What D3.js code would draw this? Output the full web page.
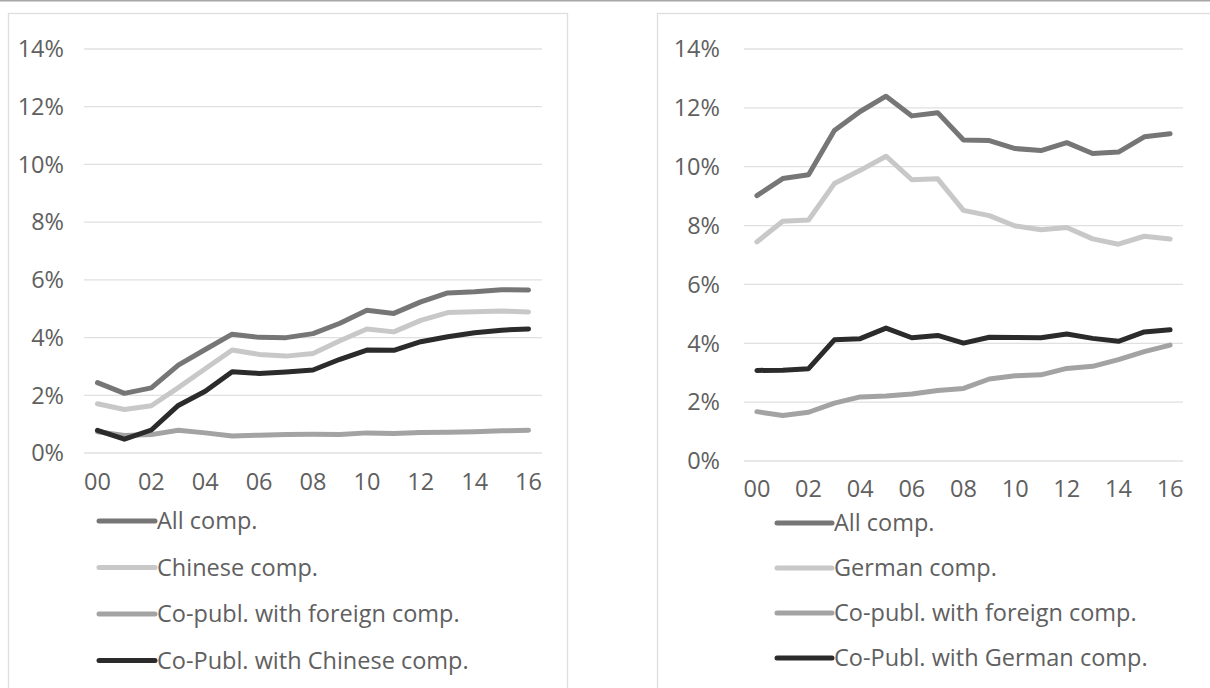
<!DOCTYPE html>
<html>
<head>
<meta charset="utf-8">
<script src="https://cdn.jsdelivr.net/npm/d3@7"></script>
<style>
  html, body { margin: 0; padding: 0; background: #ffffff; }
  svg { display: block; }
  text { font-family: "Open Sans", "Noto Sans", sans-serif; fill: #606060; }
</style>
</head>
<body>
<svg id="chart" width="1210" height="688"></svg>
<script>
// ---- data ----
const years = ["00","01","02","03","04","05","06","07","08","09","10","11","12","13","14","15","16"];
const tickLabels = ["00","02","04","06","08","10","12","14","16"];
const yTicks = [0, 2, 4, 6, 8, 10, 12, 14];

const leftNames = ["All comp.", "Chinese comp.", "Co-publ. with foreign comp.", "Co-Publ. with Chinese comp."];
const leftAll      = [2.42, 2.05, 2.24, 3.03, 3.57, 4.10, 3.99, 3.98, 4.12, 4.48, 4.93, 4.82, 5.22, 5.53, 5.57, 5.64, 5.63];
const leftNational = [1.69, 1.49, 1.62, 2.25, 2.90, 3.55, 3.40, 3.34, 3.43, 3.87, 4.28, 4.18, 4.58, 4.85, 4.88, 4.90, 4.87];
const leftForeign  = [0.72, 0.59, 0.62, 0.77, 0.68, 0.57, 0.60, 0.62, 0.63, 0.62, 0.68, 0.66, 0.69, 0.70, 0.72, 0.75, 0.77];
const leftCoNat    = [0.77, 0.46, 0.78, 1.63, 2.12, 2.80, 2.74, 2.79, 2.86, 3.23, 3.55, 3.54, 3.84, 4.01, 4.15, 4.24, 4.28];

const rightNames = ["All comp.", "German comp.", "Co-publ. with foreign comp.", "Co-Publ. with German comp."];
const rightAll      = [9.00, 9.58, 9.71, 11.21, 11.86, 12.38, 11.71, 11.82, 10.89, 10.87, 10.60, 10.53, 10.80, 10.43, 10.48, 11.00, 11.10];
const rightNational = [7.43, 8.13, 8.17, 9.41, 9.86, 10.34, 9.54, 9.57, 8.50, 8.32, 7.97, 7.84, 7.92, 7.53, 7.35, 7.62, 7.53];
const rightForeign  = [1.66, 1.53, 1.64, 1.95, 2.16, 2.19, 2.26, 2.38, 2.45, 2.77, 2.88, 2.91, 3.13, 3.20, 3.43, 3.70, 3.92];
const rightCoNat    = [3.06, 3.07, 3.12, 4.10, 4.14, 4.50, 4.17, 4.25, 3.99, 4.19, 4.18, 4.17, 4.30, 4.15, 4.05, 4.37, 4.44];

const seriesColors = ["#767676", "#c8c8c8", "#a3a3a3", "#2b2b2b"];
const drawOrder = [2, 1, 0, 3];

const panels = [
  { names: leftNames, series: [leftAll, leftNational, leftForeign, leftCoNat],
    box: [8.5, 13.5, 559, 700], xRange: [84, 542], yRange: [452.5, 48.5], yLabelX: 64, xLabelY: 482,
    legX: [99, 155], legTextX: 157, legY0: 521, legDy: 46.5 },
  { names: rightNames, series: [rightAll, rightNational, rightForeign, rightCoNat],
    box: [657.5, 13.5, 600, 700], xRange: [744, 1183], yRange: [460.5, 48.5], yLabelX: 720, xLabelY: 489,
    legX: [777, 832], legTextX: 834, legY0: 523, legDy: 45 }
];

const FONT = "23.5px";
const svg = d3.select("#chart");
svg.append("rect").attr("x", 0).attr("y", 0).attr("width", 1210).attr("height", 688).attr("fill", "#fff");
svg.append("line").attr("x1", 0).attr("x2", 1210).attr("y1", 0.75).attr("y2", 0.75)
  .attr("stroke", "#a6a6a6").attr("stroke-width", 1.5);

panels.forEach(p => {
  const g = svg.append("g");
  g.append("rect").attr("x", p.box[0]).attr("y", p.box[1]).attr("width", p.box[2]).attr("height", p.box[3])
    .attr("fill", "none").attr("stroke", "#dedede").attr("stroke-width", 1.3);

  const x = d3.scaleBand().domain(years).range(p.xRange).padding(0);
  const y = d3.scaleLinear().domain([0, 14]).range(p.yRange);

  const yAxis = d3.axisLeft(y).tickValues(yTicks).tickSize(-(p.xRange[1] - p.xRange[0]))
    .tickFormat(d => d + "%");
  const ya = g.append("g").attr("transform", `translate(${p.xRange[0]},0)`).call(yAxis);
  ya.select(".domain").remove();
  ya.selectAll(".tick line").attr("stroke", "#e0e0e0").attr("stroke-width", 1.3);
  ya.selectAll(".tick text").attr("x", p.yLabelX - p.xRange[0]).attr("dy", "0.35em")
    .attr("text-anchor", "end").style("font-size", FONT).style("fill", "#606060");

  const xAxis = d3.axisBottom(x).tickValues(tickLabels).tickSize(0);
  const xa = g.append("g").attr("transform", `translate(0,${p.xLabelY})`).call(xAxis);
  xa.select(".domain").remove();
  xa.selectAll(".tick text").attr("y", 0).attr("dy", "0.35em").style("font-size", FONT).style("fill", "#606060");

  const line = d3.line().x((d, i) => x(years[i]) + x.bandwidth() / 2).y(d => y(d));
  drawOrder.forEach(k => {
    g.append("path").datum(p.series[k]).attr("d", line)
      .attr("fill", "none").attr("stroke", seriesColors[k]).attr("stroke-width", 5)
      .attr("stroke-linejoin", "round").attr("stroke-linecap", "round");
  });

  p.names.forEach((n, i) => {
    const yy = p.legY0 + i * p.legDy;
    g.append("line").attr("x1", p.legX[0]).attr("x2", p.legX[1]).attr("y1", yy).attr("y2", yy)
      .attr("stroke", seriesColors[i]).attr("stroke-width", 5).attr("stroke-linecap", "round");
    g.append("text").attr("x", p.legTextX).attr("y", yy).attr("dy", "0.35em")
      .style("font-size", FONT).text(n);
  });
});
</script>
</body>
</html>
